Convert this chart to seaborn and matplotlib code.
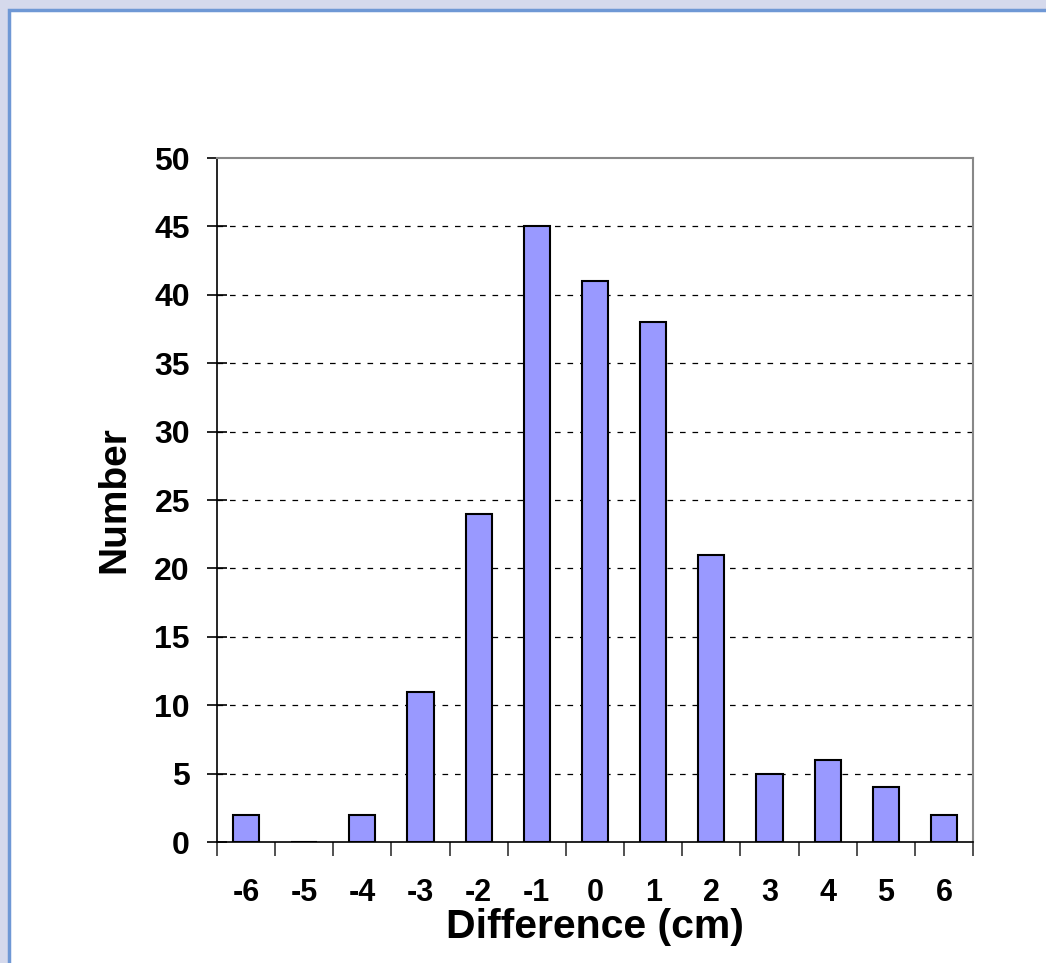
# plot.py - histogram of differences, Excel-like look
import matplotlib
matplotlib.use("Agg")
import matplotlib.pyplot as plt
import seaborn as sns
from matplotlib.patches import Rectangle
from matplotlib.ticker import MultipleLocator, FixedLocator

# Data
categories = ["-6", "-5", "-4", "-3", "-2", "-1", "0", "1", "2", "3", "4", "5", "6"]
counts = [2, 0, 2, 11, 24, 45, 41, 38, 21, 5, 6, 4, 2]

sns.set_style("white")
plt.rcParams["font.family"] = ["Liberation Sans", "DejaVu Sans"]
plt.rcParams["text.color"] = "black"
plt.rcParams["axes.labelcolor"] = "black"
plt.rcParams["xtick.color"] = "black"
plt.rcParams["ytick.color"] = "black"

W, H = 1046, 963
fig = plt.figure(figsize=(W / 100, H / 100), dpi=100, facecolor="#D5D9EC")

# white panel with blue frame (as in the screenshot)
panel = Rectangle((9 / W, -0.05), 1.1, 1 - 10 / H + 0.05, transform=fig.transFigure,
                  facecolor="white", edgecolor="#6F98D5", linewidth=2.5, zorder=-10)
fig.patches.append(panel)

ax = fig.add_axes([217 / W, 121 / H, 756 / W, 684 / H])
ax.set_zorder(1)
ax.set_facecolor("white")

sns.barplot(x=categories, y=counts, order=categories, color="#9999FF",
            edgecolor="black", linewidth=1.5, width=0.45, saturation=1, ax=ax)

ax.set_xlim(-0.5, len(categories) - 0.5)
ax.set_ylim(0, 50)
ax.yaxis.set_major_locator(MultipleLocator(5))

# dashed gridlines
for y in range(5, 50, 5):
    ax.axhline(y, color="black", linestyle=(0, (4.5, 5.5)), linewidth=0.9, zorder=0)

# spines
for s in ["top", "right"]:
    ax.spines[s].set_color("#888888")
    ax.spines[s].set_linewidth(1.5)
for s in ["left", "bottom"]:
    ax.spines[s].set_color("black")
    ax.spines[s].set_linewidth(1.2)

# x ticks: marks between categories, labels at centres
ax.xaxis.set_minor_locator(FixedLocator([i - 0.5 for i in range(len(categories) + 1)]))
ax.tick_params(axis="x", which="minor", length=10, width=1.2, color="#333333", direction="out", bottom=True)
ax.tick_params(axis="x", which="major", length=0, pad=26, labelsize=22)
ax.tick_params(axis="y", length=15, width=1.2, color="black", direction="inout", left=True, pad=12, labelsize=23)
for lab in ax.get_xticklabels() + ax.get_yticklabels():
    lab.set_fontweight("bold")

ax.set_xlabel("Difference (cm)", fontsize=29.5, fontweight="bold", labelpad=0)
ax.set_ylabel("Number", fontsize=28, fontweight="bold", labelpad=16)

fig.savefig("out.png", dpi=100, facecolor=fig.get_facecolor())
